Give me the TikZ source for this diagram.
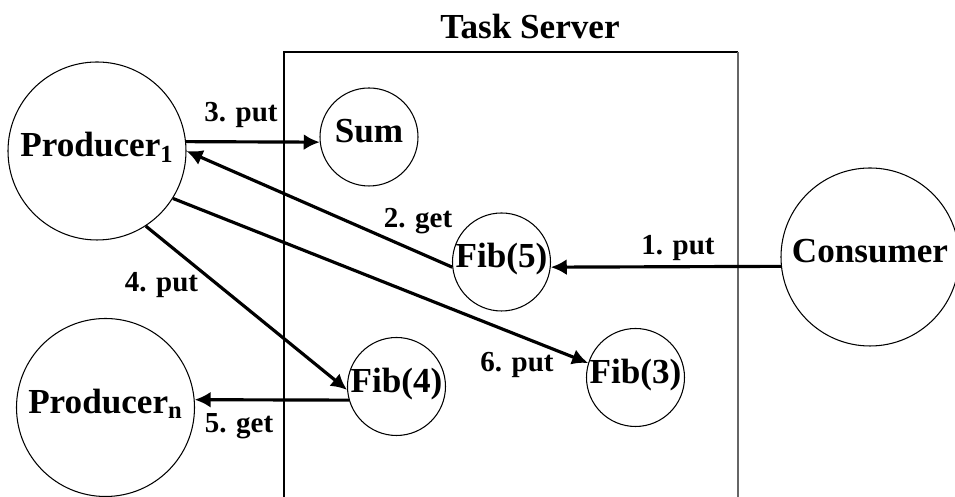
\documentclass[tikz,border=0pt]{standalone}
\usepackage{fontspec}
\setmainfont{Liberation Serif}
\usepackage{tikz}
\usetikzlibrary{arrows.meta}
\usetikzlibrary{shapes}

\begin{document}
\begin{tikzpicture}
  [every node/.style={font=\bfseries\fontsize{20}{24}\selectfont},
   task/.style={circle,draw,line width=.6pt,inner sep=0pt,text height=.66em,text depth=0pt},
   big/.style={task,minimum size=3.56cm},
   small/.style={task,minimum size=1.96cm},
   lbl/.style={anchor=base,font=\bfseries\fontsize{16.5}{20}\selectfont}]
  \useasboundingbox (0,0) rectangle (19.1,9.94);

  % task server box
  \draw[line width=.6pt] (5.68,-.1) |- (14.76,8.90);
  \draw[line width=.6pt,black!60] (14.76,8.90) -- (14.76,-.1);
  \node[anchor=base] (title) at (10.6,9.16) {Task Server};

  \node[big]   (prod1) at (1.94,6.92)  {Producer\textsubscript{1}};
  \node[big]   (prodn) at (2.11,1.79)  {Producer\textsubscript{n}};
  \node[big]   (cons)  at (17.40,4.80) {Consumer};
  \node[small] (sum)   at (7.38,7.20)  {Sum};
  \node[small] (fib5)  at (10.03,4.70) {Fib(5)};
  \node[small] (fib4)  at (7.93,2.21)  {Fib(4)};
  \node[small] (fib3)  at (12.71,2.39) {Fib(3)};

  \node[lbl] (l1) at (13.56,4.84) {1. put};
  \node[lbl] (l2) at (8.36,5.38)  {2. get};
  \node[lbl] (l3) at (4.82,7.50)  {3. put};
  \node[lbl] (l4) at (3.23,4.10)  {4. put};
  \node[lbl] (l5) at (4.78,1.28)  {5. get};
  \node[lbl] (l6) at (10.34,2.50) {6. put};

  \foreach \from/\to in {cons.186/fib5.354,fib5.186/prod1.east,prod1.6/sum.186,
                         prod1.-57/fib4.184,fib4.196/prodn.5,prod1.-32/fib3.163}
    \draw[-{Latex[length=.32cm,width=.32cm]},line width=1.8pt] (\from) -- (\to);

\end{tikzpicture}
\end{document}
